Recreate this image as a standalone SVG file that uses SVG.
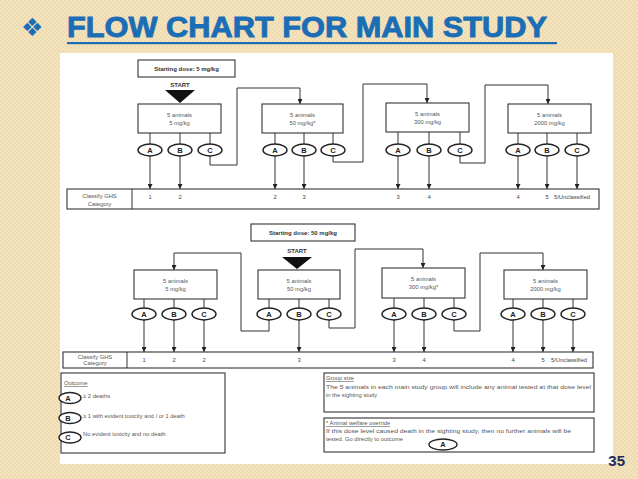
<svg xmlns="http://www.w3.org/2000/svg" width="638" height="479" viewBox="0 0 638 479">
<defs>
<pattern id="tex" width="4" height="4" patternUnits="userSpaceOnUse">
<rect width="4" height="4" fill="#f3e3bf"/>
<rect width="2" height="2" fill="#efdbb0"/>
<rect x="2" y="2" width="2" height="2" fill="#efdbb0"/>
</pattern>
<marker id="ah" viewBox="0 0 6 6" refX="6" refY="3" markerWidth="5" markerHeight="5" orient="auto" markerUnits="userSpaceOnUse">
<path d="M0,0 L6,3 L0,6 z" fill="#222"/>
</marker>
<style>
.box{fill:#fff;stroke:#333;stroke-width:1.1}
.ell{fill:#fff;stroke:#222;stroke-width:1.4}
.ln{fill:none;stroke:#333;stroke-width:1}
.arr{fill:none;stroke:#333;stroke-width:1;marker-end:url(#ah)}
.t{font-family:"Liberation Sans",Arial,sans-serif;font-size:5.8px;fill:#555;text-anchor:middle}
.tb{font-family:"Liberation Sans",Arial,sans-serif;font-size:6px;font-weight:bold;fill:#333;text-anchor:middle}
.el{font-family:"Liberation Sans",Arial,sans-serif;font-size:7.5px;font-weight:bold;fill:#222;text-anchor:middle}
.n{font-family:"Liberation Sans",Arial,sans-serif;font-size:5.8px;fill:#444;text-anchor:middle}
.lg{font-family:"Liberation Sans",Arial,sans-serif;font-size:5.8px;fill:#555}
</style>
</defs>
<rect width="638" height="479" fill="url(#tex)"/>
<rect x="60" y="53" width="553" height="411" fill="#fff"/>
<g id="title">
<text x="21" y="36" font-family="DejaVu Sans,sans-serif" font-size="25" fill="#1b6db5">❖</text>
<text x="67" y="37" font-family="Liberation Sans,Arial,sans-serif" font-size="30" font-weight="bold" fill="#1b6db5" stroke="#1b6db5" stroke-width="0.9" textLength="480" lengthAdjust="spacingAndGlyphs">FLOW CHART FOR MAIN STUDY</text>
<rect x="67" y="42" width="490" height="2.2" fill="#1b6db5"/>
</g>
<text x="625" y="466" font-family="Liberation Sans,Arial,sans-serif" font-size="15" font-weight="bold" fill="#1f2d5a" text-anchor="end">35</text>

<!-- ROW 1 -->
<g id="start1">
<rect class="box" x="138" y="60" width="97" height="17"/>
<text class="tb" x="186.5" y="70.5">Starting dose: 5 mg/kg</text>
<text class="tb" x="180" y="87">START</text>
<path d="M165,90 L195,90 L180,103 z" fill="#111"/>
</g>
<g id="r1b1"><rect class="box" x="138" y="104" width="83" height="29"/><text class="t" x="179.5" y="117">5 animals</text><text class="t" x="179.5" y="125">5 mg/kg</text></g>
<g id="r1b2"><rect class="box" x="262" y="104" width="81" height="29"/><text class="t" x="302.5" y="117">5 animals</text><text class="t" x="302.5" y="125">50 mg/kg*</text></g>
<g id="r1b3"><rect class="box" x="386" y="103" width="83" height="29"/><text class="t" x="427.5" y="116">5 animals</text><text class="t" x="427.5" y="124">300 mg/kg</text></g>
<g id="r1b4"><rect class="box" x="508" y="104" width="83" height="29"/><text class="t" x="549.5" y="117">5 animals</text><text class="t" x="549.5" y="125">2000 mg/kg</text></g>

<g id="connectors">
<path class="ln" d="M150,133V144 M180,133V144 M210,133V144 M275,133V144 M304,133V144 M333,133V144 M398,132V144 M429,132V144 M460,132V144 M518,133V144 M547,133V144 M577,133V144"/>
<path class="arr" d="M150,156V189"/>
<path class="arr" d="M180,156V189"/>
<path class="arr" d="M275,156V189"/>
<path class="arr" d="M304,156V189"/>
<path class="arr" d="M398,156V189"/>
<path class="arr" d="M429,156V189"/>
<path class="arr" d="M518,156V189"/>
<path class="arr" d="M547,156V189"/>
<path class="arr" d="M577,156V189"/>
<path class="arr" d="M210,156V165H237V88H300V104"/>
<path class="arr" d="M333,156V162H363V84H427V103"/>
<path class="arr" d="M460,156V163H485V85H548V104"/>
<path class="ln" d="M144,299V308 M174,299V308 M204,299V308 M269,299V308 M299,299V308 M329,299V308 M394,298V308 M424,298V308 M454,298V308 M513,299V308 M543,299V308 M573,299V308"/>
<path class="arr" d="M144,320V352"/>
<path class="arr" d="M174,320V352"/>
<path class="arr" d="M204,320V352"/>
<path class="arr" d="M299,320V352"/>
<path class="arr" d="M394,320V352"/>
<path class="arr" d="M424,320V352"/>
<path class="arr" d="M513,320V352"/>
<path class="arr" d="M543,320V352"/>
<path class="arr" d="M573,320V352"/>
<path class="arr" d="M269,320V331H241V253H174V270"/>
<path class="arr" d="M329,320V328H355V249H423V268"/>
<path class="arr" d="M454,320V331H480V253H543V270"/>
</g>

<g id="r1ell">
<ellipse class="ell" cx="150" cy="150" rx="12" ry="6"/><text class="el" x="150" y="152.7">A</text>
<ellipse class="ell" cx="180" cy="150" rx="12" ry="6"/><text class="el" x="180" y="152.7">B</text>
<ellipse class="ell" cx="210" cy="150" rx="12" ry="6"/><text class="el" x="210" y="152.7">C</text>
<ellipse class="ell" cx="275" cy="150" rx="12" ry="6"/><text class="el" x="275" y="152.7">A</text>
<ellipse class="ell" cx="304" cy="150" rx="12" ry="6"/><text class="el" x="304" y="152.7">B</text>
<ellipse class="ell" cx="333" cy="150" rx="12" ry="6"/><text class="el" x="333" y="152.7">C</text>
<ellipse class="ell" cx="398" cy="150" rx="12" ry="6"/><text class="el" x="398" y="152.7">A</text>
<ellipse class="ell" cx="429" cy="150" rx="12" ry="6"/><text class="el" x="429" y="152.7">B</text>
<ellipse class="ell" cx="460" cy="150" rx="12" ry="6"/><text class="el" x="460" y="152.7">C</text>
<ellipse class="ell" cx="518" cy="150" rx="12" ry="6"/><text class="el" x="518" y="152.7">A</text>
<ellipse class="ell" cx="547" cy="150" rx="12" ry="6"/><text class="el" x="547" y="152.7">B</text>
<ellipse class="ell" cx="577" cy="150" rx="12" ry="6"/><text class="el" x="577" y="152.7">C</text>
</g>

<g id="r1bar">
<rect class="box" x="67" y="189" width="532" height="20"/>
<line class="ln" x1="132" y1="189" x2="132" y2="209"/>
<text class="t" x="99.5" y="198">Classify GHS</text>
<text class="t" x="99.5" y="205.5">Category</text>
<text class="n" x="150" y="199">1</text><text class="n" x="180" y="199">2</text>
<text class="n" x="275" y="199">2</text><text class="n" x="304" y="199">3</text>
<text class="n" x="398" y="199">3</text><text class="n" x="429" y="199">4</text>
<text class="n" x="518" y="199">4</text><text class="n" x="547" y="199">5</text>
<text class="n" x="554" y="199" style="text-anchor:start">5/Unclassified</text>
</g>

<g id="start2">
<rect class="box" x="251" y="224" width="104" height="17"/>
<text class="tb" x="303" y="234.5">Starting dose: 50 mg/kg</text>
<text class="tb" x="297" y="253">START</text>
<path d="M282,257 L312,257 L297,269 z" fill="#111"/>
</g>
<g id="r2b1"><rect class="box" x="134" y="270" width="83" height="29"/><text class="t" x="175.5" y="283">5 animals</text><text class="t" x="175.5" y="291">5 mg/kg</text></g>
<g id="r2b2"><rect class="box" x="258" y="270" width="82" height="29"/><text class="t" x="299" y="283">5 animals</text><text class="t" x="299" y="291">50 mg/kg</text></g>
<g id="r2b3"><rect class="box" x="382" y="268" width="83" height="30"/><text class="t" x="423.5" y="281">5 animals</text><text class="t" x="423.5" y="289">300 mg/kg*</text></g>
<g id="r2b4"><rect class="box" x="504" y="270" width="83" height="29"/><text class="t" x="545.5" y="283">5 animals</text><text class="t" x="545.5" y="291">2000 mg/kg</text></g>

<g id="r2ell">
<ellipse class="ell" cx="144" cy="314" rx="12" ry="6"/><text class="el" x="144" y="316.7">A</text>
<ellipse class="ell" cx="174" cy="314" rx="12" ry="6"/><text class="el" x="174" y="316.7">B</text>
<ellipse class="ell" cx="204" cy="314" rx="12" ry="6"/><text class="el" x="204" y="316.7">C</text>
<ellipse class="ell" cx="269" cy="314" rx="12" ry="6"/><text class="el" x="269" y="316.7">A</text>
<ellipse class="ell" cx="299" cy="314" rx="12" ry="6"/><text class="el" x="299" y="316.7">B</text>
<ellipse class="ell" cx="329" cy="314" rx="12" ry="6"/><text class="el" x="329" y="316.7">C</text>
<ellipse class="ell" cx="394" cy="314" rx="12" ry="6"/><text class="el" x="394" y="316.7">A</text>
<ellipse class="ell" cx="424" cy="314" rx="12" ry="6"/><text class="el" x="424" y="316.7">B</text>
<ellipse class="ell" cx="454" cy="314" rx="12" ry="6"/><text class="el" x="454" y="316.7">C</text>
<ellipse class="ell" cx="513" cy="314" rx="12" ry="6"/><text class="el" x="513" y="316.7">A</text>
<ellipse class="ell" cx="543" cy="314" rx="12" ry="6"/><text class="el" x="543" y="316.7">B</text>
<ellipse class="ell" cx="573" cy="314" rx="12" ry="6"/><text class="el" x="573" y="316.7">C</text>
</g>

<g id="r2bar">
<rect class="box" x="63" y="352" width="530" height="16"/>
<line class="ln" x1="127" y1="352" x2="127" y2="368"/>
<text class="t" x="95" y="358.5">Classify GHS</text>
<text class="t" x="95" y="365">Category</text>
<text class="n" x="144" y="362">1</text><text class="n" x="174" y="362">2</text><text class="n" x="204" y="362">2</text>
<text class="n" x="299" y="362">3</text>
<text class="n" x="394" y="362">3</text><text class="n" x="424" y="362">4</text>
<text class="n" x="513" y="362">4</text><text class="n" x="543" y="362">5</text>
<text class="n" x="551" y="362" style="text-anchor:start">5/Unclassified</text>
</g>

<g id="outcome">
<rect class="box" x="61" y="373" width="164" height="80"/>
<text class="lg" x="64" y="385" text-decoration="underline">Outcome</text>
<ellipse class="ell" cx="70" cy="398" rx="11" ry="5.5"/><text class="el" x="68" y="400.7">A</text>
<text class="lg" x="83" y="398">≥ 2 deaths</text>
<ellipse class="ell" cx="70" cy="418" rx="11" ry="5.5"/><text class="el" x="68" y="420.7">B</text>
<text class="lg" x="83" y="418">≥ 1 with evident toxicity and / or 1 death</text>
<ellipse class="ell" cx="70" cy="437.5" rx="11" ry="5.5"/><text class="el" x="68" y="440.2">C</text>
<text class="lg" x="83" y="436">No evident toxicity and no death</text>
</g>
<g id="groupsize">
<rect class="box" x="324" y="373" width="270" height="39"/>
<text class="lg" x="326" y="380" text-decoration="underline">Group size</text>
<text class="lg" x="326" y="388.5" textLength="265" lengthAdjust="spacingAndGlyphs">The 5 animals in each main study group will include any animal tested  at that dose level</text>
<text class="lg" x="326" y="396.5">in the sighting study</text>
</g>
<g id="welfare">
<rect class="box" x="324" y="418" width="270" height="34"/>
<text class="lg" x="326" y="425" text-decoration="underline">* Animal welfare override</text>
<text class="lg" x="326" y="433" textLength="245" lengthAdjust="spacingAndGlyphs">If this dose level caused death in the sighting study, then no further animals will be</text>
<text class="lg" x="326" y="441">tested. Go directly to outcome</text>
<ellipse class="ell" cx="443" cy="444.5" rx="14" ry="5.5"/><text class="el" x="443" y="447.2">A</text>
</g>
</svg>
